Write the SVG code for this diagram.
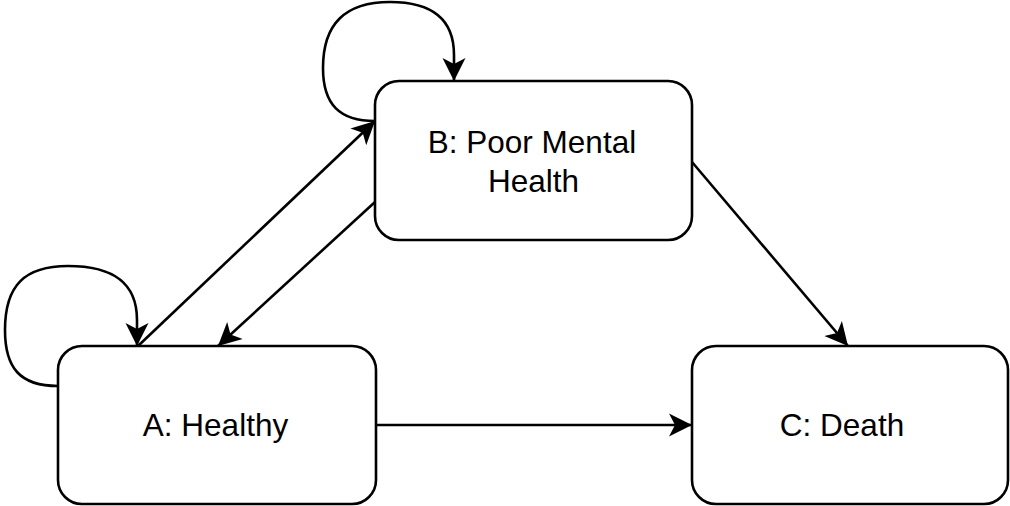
<svg xmlns="http://www.w3.org/2000/svg" width="1010" height="506" viewBox="0 0 1010 506">
  <style>
    .box { fill: #ffffff; stroke: #000000; stroke-width: 2.6; }
    .lbl { font-family: "Liberation Sans", Arial, Helvetica, sans-serif; font-size: 31.5px; fill: #000000; text-anchor: middle; }
    .edge { fill: none; stroke: #000000; stroke-width: 2.6; marker-end: url(#arrow); }
  </style>
  <defs>
    <marker id="arrow" markerUnits="userSpaceOnUse" markerWidth="26" markerHeight="26" viewBox="0 -13 26 26" refX="23" refY="0" orient="auto">
      <path d="M23,0 L0,-11.5 L6,0 L0,11.5 Z" fill="#000000"/>
    </marker>
  </defs>
  <rect width="1010" height="506" fill="#ffffff"/>
  <g id="connectors">
    <path class="edge" d="M138,346 L375,121"/>
    <path class="edge" d="M375,202 L218,346"/>
    <path class="edge" d="M692,162 L848,346"/>
    <path class="edge" d="M376,425 L692,425"/>
    <path class="edge" d="M58,386 C20,386 5,368 5,330 C5,285 25,266 68,266 C112,266 137,282 137,320 L137,346"/>
    <path class="edge" d="M375,121 C340,121 323,105 323,68 C323,24 345,2 390,2 C433,2 454,20 454,55 L454,81"/>
  </g>
  <g id="node-B">
    <rect class="box" x="375" y="81" width="317" height="159" rx="24" ry="24"/>
    <text class="lbl" x="532" y="153">B: Poor Mental</text>
    <text class="lbl" x="533.5" y="192">Health</text>
  </g>
  <g id="node-A">
    <rect class="box" x="58" y="346" width="318" height="158" rx="24" ry="24"/>
    <text class="lbl" x="215.5" y="436">A: Healthy</text>
  </g>
  <g id="node-C">
    <rect class="box" x="692" y="346" width="316" height="158" rx="24" ry="24"/>
    <text class="lbl" x="842" y="436">C: Death</text>
  </g>
</svg>
